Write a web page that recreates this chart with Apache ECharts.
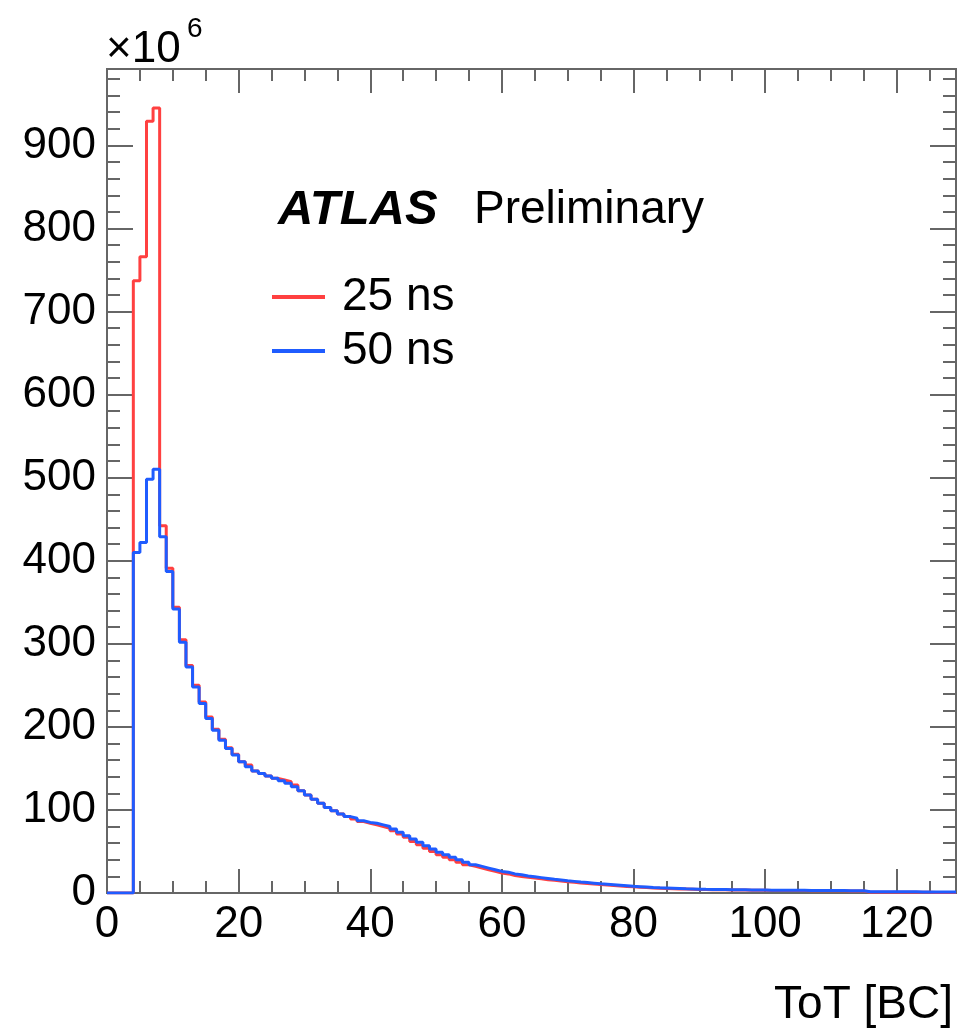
<!DOCTYPE html>
<html>
<head>
<meta charset="utf-8">
<script src="https://cdn.jsdelivr.net/npm/echarts@6/dist/echarts.min.js"></script>
<style>
html,body{margin:0;padding:0;background:#fff;}
#chart{width:959px;height:1033px;}
</style>
</head>
<body>
<div id="chart"></div>
<script>
// ---- data (values in units of 10^6, one value per 1-BC bin, bin low edge = index) ----
const xMin = 0;
const xMax = 129;
const yMax = 992;
const seriesNames = ['25 ns', '50 ns'];

const counts25ns = [
  0, 0, 0, 0, 737, 766, 929, 945,
  442, 391, 344, 305, 274, 250, 230, 212,
  197, 185, 175, 167, 158, 154, 147, 144,
  141, 138, 136, 134, 130, 123, 118, 113,
  108, 103, 99, 95, 92, 89, 86, 84,
  82, 80, 78, 75, 71, 67, 62, 58,
  54, 50, 46, 43, 40, 37, 34, 32,
  30, 28, 26, 24, 23, 21, 20, 19,
  18, 17, 16, 15.2, 14.4, 13.6, 12.8, 12,
  11.4, 10.8, 10.2, 9.6, 9.0, 8.4, 7.9, 7.4,
  7.0, 6.5, 6.1, 5.8, 5.5, 5.2, 4.9, 4.7,
  4.5, 4.3, 4.1, 4.0, 3.9, 3.8, 3.7, 3.6,
  3.5, 3.4, 3.3, 3.2, 3.1, 3.1, 3.0, 3.0,
  2.9, 2.9, 2.8, 2.8, 2.7, 2.7, 2.6, 2.6,
  2.5, 2.5, 2.4, 1.0, 1.0, 1.0, 0.9, 0.9,
  0.9, 0.8, 0.8, 0.8, 0.8, 0.7, 0.7, 0.7,
  0.7
];

const counts50ns = [
  0, 0, 0, 0, 410, 422, 498, 510,
  429, 387, 342, 302, 272, 248, 228, 210,
  196, 184, 174, 166, 158, 152, 147, 144,
  141, 138, 135, 132, 128, 123, 118, 113,
  108, 103, 99, 95, 92, 90, 87, 85,
  84, 82, 80, 77, 73, 69, 65, 61,
  57, 53, 49, 46, 43, 40, 37, 34,
  32, 30, 28, 26, 25, 23, 22, 20.5,
  19.5, 18.5, 17.5, 16.5, 15.7, 14.8, 14, 13.2,
  12.5, 11.8, 11, 10.4, 9.8, 9.2, 8.6, 8,
  7.6, 7.1, 6.6, 6.2, 5.9, 5.6, 5.3, 5.0,
  4.8, 4.6, 4.4, 4.3, 4.2, 4.1, 4.0, 3.9,
  3.8, 3.7, 3.6, 3.5, 3.4, 3.4, 3.3, 3.3,
  3.2, 3.2, 3.1, 3.1, 3.0, 3.0, 2.9, 2.9,
  2.8, 2.8, 2.7, 1.6, 1.6, 1.5, 1.5, 1.5,
  1.4, 1.4, 1.4, 1.3, 1.3, 1.3, 1.2, 1.2,
  1.2
];

const xMajorStep = 20, xMinorStep = 5;
const yMajorStep = 100, yMinorStep = 20;

// ---- build ----
function histPoints(vals) {
  const pts = vals.map((v, i) => [xMin + i, v]);
  pts.push([xMin + vals.length, vals[vals.length - 1]]);
  return pts;
}

const FONT = 'Liberation Sans, Arial, Helvetica, sans-serif';
const frameColor = '#666666';
const tickStyle = { color: frameColor, width: 2 };
const gridBox = { left: 107, top: 69, width: 849, height: 824 };

function xAx(grid, pos, step, len, labels) {
  return {
    type: 'value', gridIndex: grid, position: pos, min: xMin, max: xMax, interval: step,
    axisLine: { show: false, onZero: false },
    axisTick: { show: true, inside: true, length: len, lineStyle: tickStyle },
    splitLine: { show: false },
    axisLabel: labels ? {
      show: true, fontSize: 44, fontFamily: FONT, color: '#000', margin: 10,
      formatter: v => (v % xMajorStep === 0 ? String(v) : '')
    } : { show: false }
  };
}
function yAx(grid, pos, step, len, labels) {
  return {
    type: 'value', gridIndex: grid, position: pos, min: 0, max: yMax, interval: step,
    axisLine: { show: false, onZero: false },
    axisTick: { show: true, inside: true, length: len, lineStyle: tickStyle },
    splitLine: { show: false },
    axisLabel: labels ? {
      show: true, fontSize: 44, fontFamily: FONT, color: '#000', margin: 11,
      formatter: v => (v % yMajorStep === 0 ? String(v) : '')
    } : { show: false }
  };
}

const chart = echarts.init(document.getElementById('chart'), null, { renderer: 'canvas' });
chart.setOption({
  animation: false,
  backgroundColor: '#fff',
  grid: [
    Object.assign({ show: true, borderColor: frameColor, borderWidth: 2, backgroundColor: 'transparent', containLabel: false, outerBoundsMode: 'none' }, gridBox),
    Object.assign({ show: false, containLabel: false, outerBoundsMode: 'none' }, gridBox)
  ],
  xAxis: [
    xAx(0, 'bottom', xMinorStep, 12, true),
    xAx(0, 'top', xMinorStep, 12, false),
    xAx(1, 'bottom', xMajorStep, 24, false),
    xAx(1, 'top', xMajorStep, 24, false)
  ],
  yAxis: [
    yAx(0, 'left', yMinorStep, 13, true),
    yAx(0, 'right', yMinorStep, 13, false),
    yAx(1, 'left', yMajorStep, 26, false),
    yAx(1, 'right', yMajorStep, 26, false)
  ],
  legend: {
    show: true,
    orient: 'vertical',
    left: 272, top: 274,
    padding: 0,
    icon: 'rect',
    itemWidth: 53, itemHeight: 4, itemGap: 8,
    itemStyle: { borderWidth: 0 },
    textStyle: { fontSize: 46, lineHeight: 46, fontFamily: FONT, color: '#000', padding: [0, 0, 0, 12] },
    data: seriesNames
  },
  series: [
    {
      name: seriesNames[0], type: 'line', step: 'end', showSymbol: false, symbol: 'none',
      xAxisIndex: 0, yAxisIndex: 0,
      lineStyle: { color: '#ff4040', width: 3 }, itemStyle: { color: '#ff4040' },
      data: histPoints(counts25ns), z: 3
    },
    {
      name: seriesNames[1], type: 'line', step: 'end', showSymbol: false, symbol: 'none',
      xAxisIndex: 0, yAxisIndex: 0,
      lineStyle: { color: '#1f5cff', width: 3 }, itemStyle: { color: '#1f5cff' },
      data: histPoints(counts50ns), z: 4
    }
  ],
  graphic: [
    { type: 'text', left: 106, top: 28, style: { text: '×10', font: '44px ' + FONT, fill: '#000' } },
    { type: 'text', left: 187, top: 15, style: { text: '6', font: '28px ' + FONT, fill: '#000' } },
    { type: 'text', left: 278, top: 186, style: { text: 'ATLAS', font: 'italic bold 49px ' + FONT, fill: '#000' } },
    { type: 'text', left: 474, top: 187, style: { text: 'Preliminary', font: '46px ' + FONT, fill: '#000' } },
    { type: 'text', right: 6, top: 982, style: { text: 'ToT [BC]', font: '46px ' + FONT, fill: '#000' } }
  ]
});
</script>
</body>
</html>
